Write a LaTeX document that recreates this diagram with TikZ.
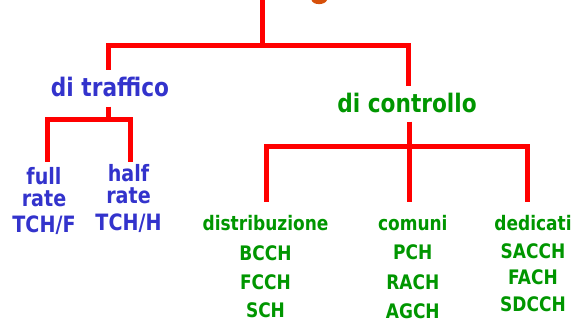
\documentclass[tikz,border=0pt]{standalone}
\usepackage{fontspec}
\newfontfamily\cf[FakeStretch=0.85]{DejaVu Sans}
\definecolor{trblue}{RGB}{51,51,204}
\definecolor{ctgreen}{RGB}{0,150,0}
\definecolor{brred}{RGB}{255,0,0}
\definecolor{ttlorange}{RGB}{214,80,10}
\begin{document}
\begin{tikzpicture}[x=1pt,y=-1pt,
  br/.style={draw=brred,line width=5pt,line join=miter,line cap=butt},
  lbl/.style={inner sep=0pt,anchor=base,font=\cf\bfseries},
  top/.style={lbl,font=\cf\bfseries\fontsize{25.5}{28}\selectfont},
  tr/.style={lbl,text=trblue,font=\cf\bfseries\fontsize{22.5}{25}\selectfont},
  ct/.style={lbl,text=ctgreen,font=\cf\bfseries\fontsize{20}{24}\selectfont}]
\useasboundingbox (0,0) rectangle (575,323);

% tail of the title glyph above the frame
\fill[ttlorange] (311.5,0) .. controls (313,5.5) and (325,5.5) .. (327,0) -- cycle;

% first level
\node[top,text=trblue]  (traffico)  at (110,96.7) {di traffico};
\node[top,text=ctgreen] (controllo) at (407,112.7) {di controllo};

% traffic channels
\node[tr] (f1) at (44,185)   {full};
\node[tr] (f2) at (44,206.7) {rate};
\node[tr] (f3) at (44,232.7) {TCH/F};
\node[tr] (h1) at (128.5,181.7) {half};
\node[tr] (h2) at (128.5,204)   {rate};
\node[tr] (h3) at (128.5,230.7) {TCH/H};

% control channels
\node[ct] (d0) at (265.5,230)   {distribuzione};
\node[ct] (d1) at (265.5,260)   {BCCH};
\node[ct] (d2) at (265.5,289.3) {FCCH};
\node[ct] (d3) at (265.5,317.7) {SCH};
\node[ct] (c0) at (412.8,230.7) {comuni};
\node[ct] (c1) at (412.8,259.7) {PCH};
\node[ct] (c2) at (412.8,289.3) {RACH};
\node[ct] (c3) at (412.8,318)   {AGCH};
\node[ct] (e0) at (533,230.7) {dedicati};
\node[ct] (e1) at (533,258.3) {SACCH};
\node[ct] (e2) at (533,284.3) {FACH};
\node[ct] (e3) at (533,311)   {SDCCH};

% bracket points
\coordinate (root) at (262,0);
\coordinate (j1) at (262,46);
\coordinate (a1) at (108.5,70);
\coordinate (a2) at (408.5,86);
\coordinate (s1) at (108.5,106.7);
\coordinate (j2) at (108.5,120);
\coordinate (b1) at (47.5,161.7);
\coordinate (b2) at (130,161.7);
\coordinate (s2) at (409.5,121.7);
\coordinate (j3) at (409.5,146.5);
\coordinate (g1) at (266.5,201.7);
\coordinate (g2) at (409.5,201.7);
\coordinate (g3) at (527.5,201.7);

% brackets
\draw[br] (root) -- (j1);
\draw[br] (a1) |- (j1) -| (a2);
\draw[br] (s1) -- (j2);
\draw[br] (b1) |- (j2) -| (b2);
\draw[br] (s2) -- (g2);
\draw[br] (g1) |- (j3) -| (g3);
\end{tikzpicture}
\end{document}
